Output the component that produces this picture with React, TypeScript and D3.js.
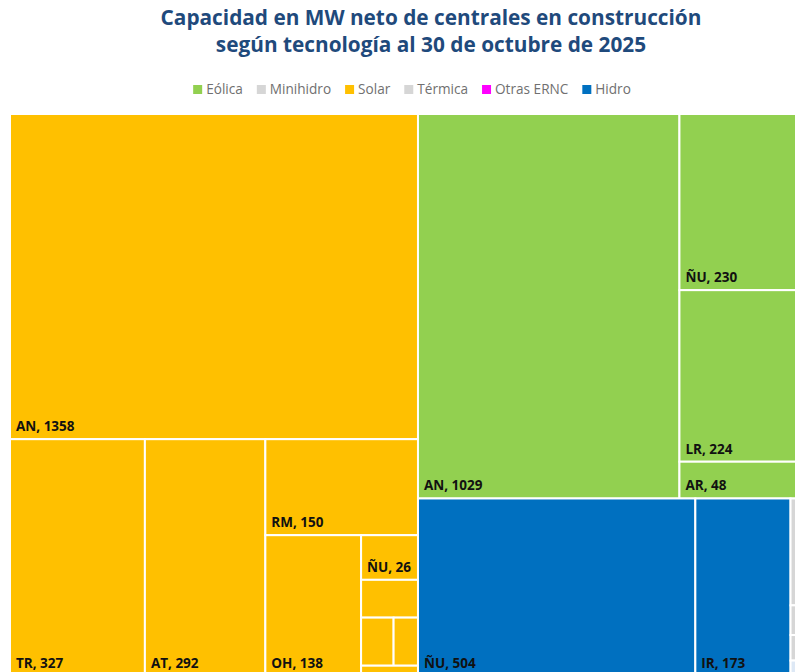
import React, { useEffect, useRef } from 'react';
import * as d3 from 'd3';

const width = 795;
const height = 672;

const titleLines = [
    "Capacidad en MW neto de centrales en construcción",
    "según tecnología al 30 de octubre de 2025",
];

// legend order as shown
const tecnologias = ["Eólica", "Minihidro", "Solar", "Térmica", "Otras ERNC", "Hidro"];
const colores = ["#92d050", "#d6d6d6", "#ffc000", "#d6d6d6", "#ff00ff", "#0070c0"];

const solarRegiones = ["AN", "TR", "AT", "RM", "OH", "ÑU", "ML", "VA", "BI", "LB"];
const solarMW = [1358, 327, 292, 150, 138, 26, 22, 16, 12, 6];

const eolicaRegiones = ["AN", "ÑU", "LR", "AR"];
const eolicaMW = [1029, 230, 224, 48];

const hidroRegiones = ["ÑU", "IR"];
const hidroMW = [504, 173];

const minihidroRegiones = ["BI"];
const minihidroMW = [18];

const termicaRegiones = ["AN", "BI"];
const termicaMW = [5, 4.3];

// tile at the bottom of the small column, drawn pale (not in the legend)
const otrasRegiones = ["RM"];
const otrasMW = [2.6];

function D3Treemap() {
    const svgRef = useRef(null);

    const marginLeft = 10;
    const marginTop = 114;
    const mapWidth = 797; // runs past the right edge, like the screenshot
    const mapHeight = 562;

    useEffect(() => {
        const svg = d3.select(svgRef.current)
            .attr("width", width)
            .attr("height", height)
            .attr("viewBox", [0, 0, width, height]);

        svg.selectAll("*").remove();

        const colorOf = (name) => {
            const i = tecnologias.indexOf(name);
            return i >= 0 ? colores[i] : "#dde8f5";
        };

        const grupos = [
            { name: "Solar", regiones: solarRegiones, mw: solarMW },
            { name: "Eólica", regiones: eolicaRegiones, mw: eolicaMW },
            { name: "Hidro", regiones: hidroRegiones, mw: hidroMW },
            { name: "Minihidro", regiones: minihidroRegiones, mw: minihidroMW },
            { name: "Térmica", regiones: termicaRegiones, mw: termicaMW },
            { name: "Otras", regiones: otrasRegiones, mw: otrasMW },
        ];

        const data = {
            name: "root",
            children: grupos.map(g => ({
                name: g.name,
                children: g.regiones.map((r, i) => ({ name: r, value: g.mw[i] })),
            })),
        };

        const root = d3.hierarchy(data)
            .sum(d => d.value)
            .sort((a, b) => b.value - a.value);

        d3.treemap()
            .tile(d3.treemapSquarify.ratio(1))
            .size([mapWidth, mapHeight])
            (root);

        // title
        svg.append("g")
            .selectAll("text")
            .data(titleLines)
            .join("text")
            .attr("x", 431)
            .attr("y", (d, i) => 25 + i * 27)
            .attr("text-anchor", "middle")
            .attr("font-family", "'Open Sans', sans-serif")
            .attr("font-weight", 700)
            .attr("font-size", 20.8)
            .attr("fill", "#1f4a7c")
            .text(d => d);

        // legend
        const legend = svg.append("g");
        const swatch = 9;
        const gap = 14;
        let lx = 0;
        tecnologias.forEach((t, i) => {
            const item = legend.append("g").attr("transform", `translate(${lx},0)`);
            item.append("rect")
                .attr("x", 0)
                .attr("y", -swatch)
                .attr("width", swatch)
                .attr("height", swatch)
                .attr("fill", colores[i]);
            const txt = item.append("text")
                .attr("x", swatch + 4)
                .attr("y", 0)
                .attr("font-family", "'Open Sans', sans-serif")
                .attr("font-size", 13.6)
                .attr("fill", "#707070")
                .text(t);
            const tw = txt.node().getComputedTextLength();
            lx += swatch + 4 + tw + gap;
        });
        const legendWidth = lx - gap;
        legend.attr("transform", `translate(${412 - legendWidth / 2},94)`);

        // tiles
        const chart = svg.append("g")
            .attr("transform", `translate(${marginLeft},${marginTop})`);

        const leaves = chart.selectAll("g")
            .data(root.leaves())
            .join("g");

        leaves.append("rect")
            .attr("x", d => d.x0)
            .attr("y", d => d.y0)
            .attr("width", d => d.x1 - d.x0)
            .attr("height", d => d.y1 - d.y0)
            .attr("fill", d => colorOf(d.parent.data.name))
            .attr("stroke", "#fff")
            .attr("stroke-width", 2);

        leaves.filter(d => d.value >= 25)
            .append("text")
            .attr("x", d => d.x0 + 6)
            .attr("y", d => d.y1 - 8)
            .attr("font-family", "'Open Sans', sans-serif")
            .attr("font-weight", 700)
            .attr("font-size", 13.5)
            .attr("fill", "#111")
            .text(d => `${d.data.name}, ${d3.format("d")(d.value)}`);

    }, []);

    return (
        <svg ref={svgRef} style={{ position: "absolute", left: 0, top: 0, overflow: "hidden", background: "#fff" }}>
        </svg>
    );
}

export default function App() {
    return (
        <div>
            <D3Treemap />
        </div>
    );
}
